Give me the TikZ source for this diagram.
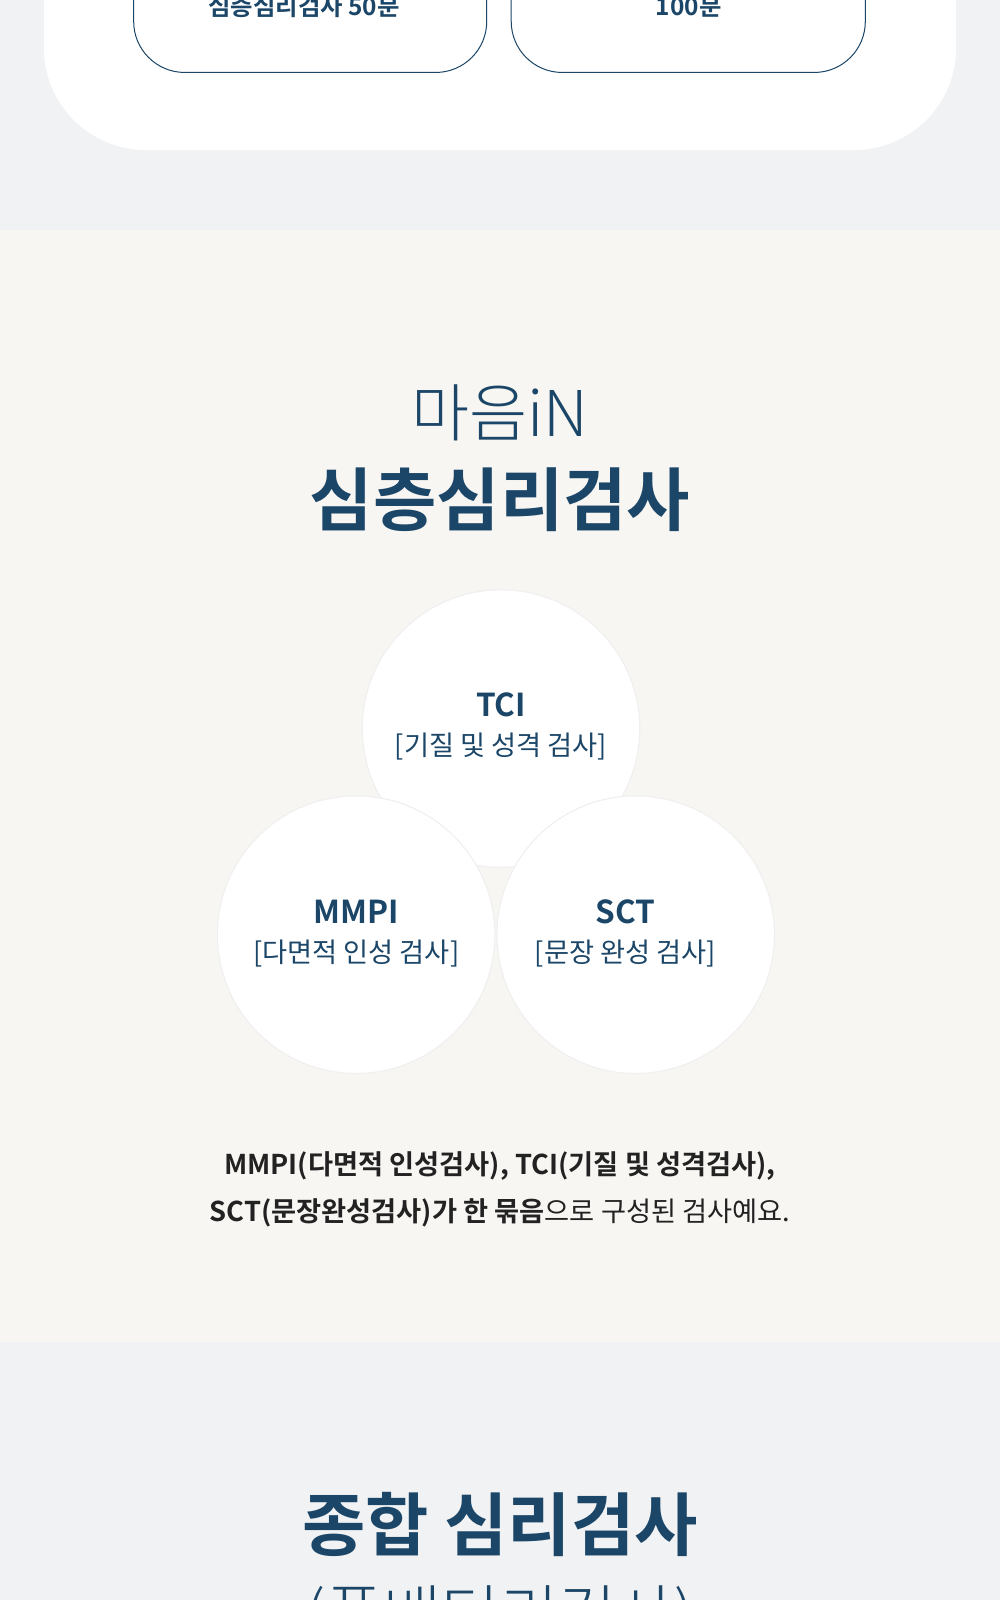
\documentclass[tikz,border=0pt]{standalone}
\usepackage{fontspec}
\setmainfont{Noto Sans CJK KR}
\newfontfamily\krb{Noto Sans CJK KR Bold}
\newfontfamily\krl{Noto Sans CJK KR Light}
\definecolor{navy}{HTML}{1B4668}
\definecolor{cream}{HTML}{F8F6F2}
\definecolor{grayb}{HTML}{F1F2F3}
\definecolor{txt}{HTML}{222222}
\begin{document}
\begin{tikzpicture}[x=0.025cm,y=-0.025cm,
  circ/.style={circle,fill=white,draw=black!6,line width=0.8pt,minimum size=272*0.025cm,inner sep=0pt},
  pill/.style={draw=navy,line width=0.7pt,fill=white,rounded corners=50*0.025cm}]
\useasboundingbox (0,0) rectangle (980,1568);
\clip (0,0) rectangle (980,1568);
\fill[grayb] (0,0) rectangle (980,1568);
\fill[white,rounded corners=100*0.025cm] (43,-200) rectangle (937,147);
\draw[pill] (131,-150) rectangle (477,71);
\draw[pill] (501,-150) rectangle (848,71);
\node[font=\krb\fontsize{17}{20}\selectfont,text=navy] (t1) at (298,6) {심층심리검사 50분};
\node[font=\krb\fontsize{17}{20}\selectfont,text=navy] (t2) at (675,6) {100분};
\fill[cream] (0,225) rectangle (980,1315);
\node[font=\krl\fontsize{44}{50}\selectfont,text=navy] (h1) at (490,405) {마음iN};
\node[font=\krb\fontsize{48}{56}\selectfont,text=navy] (h2) at (490,490) {심층심리검사};
\node[circ] (tci) at (491,714) {};
\node[circ] (mmpi) at (349,916) {};
\node[circ] (sct) at (623,916) {};
\node[font=\krb\fontsize{22}{26}\selectfont,text=navy] at (491,691) {TCI};
\node[font=\fontsize{19}{22}\selectfont,text=navy] at (491,732) {[기질 및 성격 검사]};
\node[font=\krb\fontsize{22}{26}\selectfont,text=navy] at (349,894) {MMPI};
\node[font=\fontsize{19}{22}\selectfont,text=navy] at (349,934) {[다면적 인성 검사]};
\node[font=\krb\fontsize{22}{26}\selectfont,text=navy] at (613,894) {SCT};
\node[font=\fontsize{19}{22}\selectfont,text=navy] at (613,934) {[문장 완성 검사]};
\node[font=\fontsize{19}{22}\selectfont,text=txt] (p1) at (490,1143) {\krb MMPI(다면적 인성검사), TCI(기질 및 성격검사),};
\node[font=\fontsize{19}{22}\selectfont,text=txt] (p2) at (490,1189) {{\krb SCT(문장완성검사)가 한 묶음}으로 구성된 검사예요.};
\node[font=\krb\fontsize{48}{56}\selectfont,text=navy] (h3) at (490,1494) {종합 심리검사};
\node[font=\krl\fontsize{44}{50}\selectfont,text=navy] (h4) at (490,1585) {(풀배터리검사)};
\end{tikzpicture}
\end{document}
